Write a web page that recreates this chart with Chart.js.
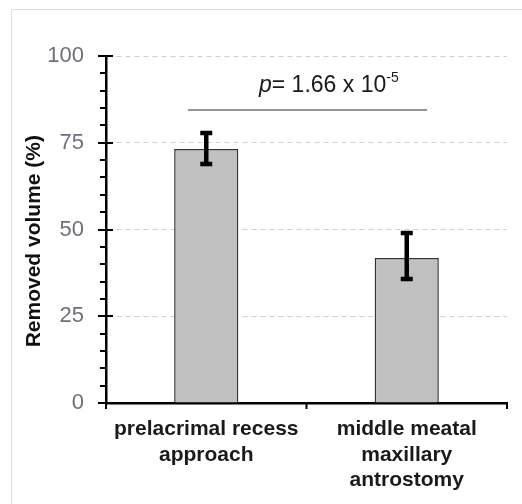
<!DOCTYPE html>
<html>
<head>
<meta charset="utf-8">
<script src="https://cdn.jsdelivr.net/npm/chart.js@4"></script>
<style>
  html, body { margin: 0; padding: 0; background: #fff; }
  #wrap { width: 522px; height: 504px; position: relative; }
</style>
</head>
<body>
<div id="wrap"><canvas id="grafica" width="522" height="504"></canvas></div>
<script>
// Datos
const categorias = [['prelacrimal recess', 'approach'], ['middle meatal', 'maxillary', 'antrostomy']];
const volumen = [73.2, 41.8];
const errorAlto = [77.8, 49.0];
const errorBajo = [68.9, 35.7];
const ticksMayores = [0, 25, 50, 75, 100];
const textoP = { base: '= 1.66 x 10', exp: '-5' };

const FONT = "'Liberation Sans', Arial, sans-serif";

// Plugin para marco, marcas de ejes, barras de error y anotación del valor p
const extras = {
  id: 'extras',
  beforeDraw(chart) {
    const ctx = chart.ctx;
    ctx.save();
    ctx.strokeStyle = '#dcdcdc';
    ctx.lineWidth = 1;
    ctx.beginPath();
    ctx.moveTo(11.5, 504);
    ctx.lineTo(11.5, 9.5);
    ctx.lineTo(522, 9.5);
    ctx.stroke();
    ctx.restore();
  },
  afterDatasetsDraw(chart) {
    const ctx = chart.ctx;
    const x = chart.scales.x, y = chart.scales.y;
    const area = chart.chartArea;
    ctx.save();
    // marcas del eje y
    ctx.strokeStyle = '#000';
    ctx.lineWidth = 2;
    for (let v = 0; v <= 100; v += 5) {
      const py = Math.round(y.getPixelForValue(v));
      const mayor = ticksMayores.includes(v);
      ctx.beginPath();
      ctx.moveTo(area.left - (mayor ? 8 : 6), py);
      ctx.lineTo(area.left + (mayor ? 7 : 0), py);
      ctx.stroke();
    }
    // marcas del eje x en los límites de categoría
    const ancho = (area.right - area.left) / categorias.length;
    for (let i = 0; i <= categorias.length; i++) {
      const px = area.left + i * ancho;
      ctx.beginPath();
      ctx.moveTo(px, area.bottom);
      ctx.lineTo(px, area.bottom + 6);
      ctx.stroke();
    }
    // barras de error
    ctx.lineWidth = 4.5;
    volumen.forEach((v, i) => {
      const px = x.getPixelForValue(i);
      const top = y.getPixelForValue(errorAlto[i]);
      const bot = y.getPixelForValue(errorBajo[i]);
      ctx.beginPath();
      ctx.moveTo(px, top);
      ctx.lineTo(px, bot);
      ctx.moveTo(px - 6, top);
      ctx.lineTo(px + 6, top);
      ctx.moveTo(px - 6, bot);
      ctx.lineTo(px + 6, bot);
      ctx.stroke();
    });
    // línea del valor p
    ctx.strokeStyle = '#707070';
    ctx.lineWidth = 1.5;
    ctx.beginPath();
    ctx.moveTo(188, 110);
    ctx.lineTo(427, 110);
    ctx.stroke();
    ctx.fillStyle = '#1a1a1a';
    ctx.textBaseline = 'alphabetic';
    ctx.font = 'italic 23px ' + FONT;
    let tx = 259;
    ctx.fillText('p', tx, 92);
    tx += ctx.measureText('p').width;
    ctx.font = '23px ' + FONT;
    ctx.fillText(textoP.base, tx, 92);
    tx += ctx.measureText(textoP.base).width;
    ctx.font = '14px ' + FONT;
    ctx.fillText(textoP.exp, tx, 82);
    ctx.restore();
  }
};

new Chart(document.getElementById('grafica').getContext('2d'), {
  type: 'bar',
  data: {
    labels: categorias,
    datasets: [{
      data: volumen,
      backgroundColor: '#c0c0c0',
      borderColor: '#333',
      borderWidth: 1.5,
      barPercentage: 0.32,
      categoryPercentage: 1
    }]
  },
  options: {
    responsive: false,
    animation: false,
    layout: { padding: { left: 22, top: 56, right: 15, bottom: 0 } },
    plugins: { legend: { display: false }, tooltip: { enabled: false } },
    scales: {
      x: {
        afterFit(scale) { scale.height = 101; },
        grid: { display: false, drawTicks: false },
        border: { color: '#000', width: 2.5 },
        ticks: {
          color: '#1a1a1a',
          padding: 14,
          font: { family: FONT, size: 21, weight: 'bold', lineHeight: 1.2 }
        }
      },
      y: {
        min: 0,
        max: 100,
        afterFit(scale) { scale.width = 84; },
        afterBuildTicks(scale) {
          scale.ticks = [];
          for (let v = 0; v <= 100; v += 5) scale.ticks.push({ value: v });
        },
        grid: {
          drawTicks: false,
          color: c => (c.tick && c.tick.value > 0 && ticksMayores.includes(c.tick.value)) ? '#d0d0d0' : 'transparent',
          lineWidth: 1
        },
        border: { color: '#000', width: 2.5, dash: [5, 4] },
        ticks: {
          padding: 22,
          autoSkip: false,
          color: '#6e7077',
          font: { family: FONT, size: 22 },
          callback: v => ticksMayores.includes(v) ? v : ''
        },
        title: {
          display: true,
          text: 'Removed volume (%)    ',
          color: '#111',
          padding: 0,
          font: { family: FONT, size: 21, weight: 'bold' }
        }
      }
    }
  },
  plugins: [extras]
});
</script>
</body>
</html>
